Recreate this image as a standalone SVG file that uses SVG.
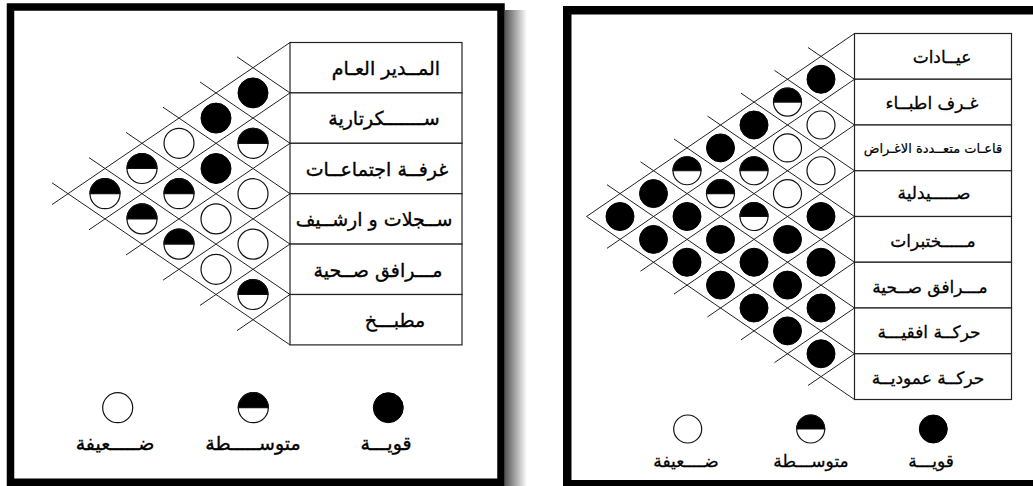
<svg xmlns="http://www.w3.org/2000/svg" xmlns:xlink="http://www.w3.org/1999/xlink" width="1033" height="486" viewBox="0 0 1033 486">
<style>
.frame{fill:none;stroke:#000}
.tbl{fill:#fff;stroke:#222;stroke-width:1.2}
.grid line{stroke:#222;stroke-width:1}
.lbl{font-family:"DejaVu Sans","Noto Sans",sans-serif;font-size:19px;fill:#000;stroke:#000;stroke-width:0.35;text-anchor:middle;direction:rtl}
.lblR{font-family:"DejaVu Sans","Noto Sans",sans-serif;font-size:17px;fill:#000;stroke:#000;stroke-width:0.3;text-anchor:middle;direction:rtl}
.full{fill:#000;stroke:#000;stroke-width:1}
.weak{fill:#fff;stroke:#111;stroke-width:1.2}
.halfb{fill:#000;stroke:#111;stroke-width:1.2}
</style>
<defs>
<linearGradient id="shadow" x1="0" y1="0" x2="1" y2="0">
<stop offset="0" stop-color="#555"/>
<stop offset="1" stop-color="#fff"/>
</linearGradient>
<g id="F15"><circle r="15" class="full"/></g>
<g id="W15"><circle r="15" class="weak"/></g>
<g id="H15"><circle r="15" class="weak"/><path d="M-15,0 A15,15 0 0 1 15,0 Z" class="halfb"/></g>
<g id="F14"><circle r="14" class="full"/></g>
<g id="W14"><circle r="14" class="weak"/></g>
<g id="H14"><circle r="14" class="weak"/><path d="M-14,0 A14,14 0 0 1 14,0 Z" class="halfb"/></g>
</defs>
<rect width="1033" height="486" fill="#fff"/>

<!-- LEFT PANEL -->
<rect x="505" y="10" width="22" height="476" fill="url(#shadow)"/>
<rect id="left-frame" class="frame" x="10.5" y="7" width="490.5" height="475.25" stroke-width="7.5"/>

<g id="left-connectors" class="grid">
<line x1="290" y1="42.5" x2="52" y2="204.6"/>
<line x1="290" y1="92.9" x2="89" y2="229.8"/>
<line x1="290" y1="143.3" x2="126" y2="255"/>
<line x1="290" y1="193.7" x2="163" y2="280.2"/>
<line x1="290" y1="244.1" x2="200" y2="305.4"/>
<line x1="290" y1="294.5" x2="237" y2="330.6"/>
<line x1="290" y1="92.9" x2="237" y2="56.8"/>
<line x1="290" y1="143.3" x2="200" y2="82"/>
<line x1="290" y1="193.7" x2="163" y2="107.2"/>
<line x1="290" y1="244.1" x2="126" y2="132.4"/>
<line x1="290" y1="294.5" x2="89" y2="157.6"/>
<line x1="290" y1="344.9" x2="52" y2="182.8"/>
</g>

<g id="left-table">
<g id="left-row-1"><rect class="tbl" x="290" y="42.5" width="172" height="50.4"/><text class="lbl" x="386" y="75">المــدير العـام</text></g>
<g id="left-row-2"><rect class="tbl" x="290" y="92.9" width="172" height="50.4"/><text class="lbl" x="384" y="125">ســـــــكرتارية</text></g>
<g id="left-row-3"><rect class="tbl" x="290" y="143.3" width="172" height="50.4"/><text class="lbl" x="377" y="176">غرفــة اجتماعــات</text></g>
<g id="left-row-4"><rect class="tbl" x="290" y="193.7" width="172" height="50.4"/><text class="lbl" x="374" y="226">ســجلات و ارشــيف</text></g>
<g id="left-row-5"><rect class="tbl" x="290" y="244.1" width="172" height="50.4"/><text class="lbl" x="378" y="277">مـــرافق صــحية</text></g>
<g id="left-row-6"><rect class="tbl" x="290" y="294.5" width="172" height="50.4"/><text class="lbl" x="395" y="327">مطبـــخ</text></g>
</g>

<g id="left-matrix">
<use href="#F15" x="253" y="92.9"/>
<use href="#H15" x="253" y="143.3"/>
<use href="#W15" x="253" y="193.7"/>
<use href="#W15" x="253" y="244.1"/>
<use href="#H15" x="253" y="294.5"/>
<use href="#F15" x="216" y="118.1"/>
<use href="#F15" x="216" y="168.5"/>
<use href="#W15" x="216" y="218.9"/>
<use href="#W15" x="216" y="269.3"/>
<use href="#W15" x="179" y="143.3"/>
<use href="#H15" x="179" y="193.7"/>
<use href="#H15" x="179" y="244.1"/>
<use href="#H15" x="142" y="168.5"/>
<use href="#H15" x="142" y="218.9"/>
<use href="#H15" x="105" y="193.7"/>
</g>

<g id="left-legend">
<g id="left-legend-weak"><use href="#W15" x="117.7" y="407.7"/><text class="lbl" x="115" y="450">ضـــــعيفة</text></g>
<g id="left-legend-medium"><use href="#H15" x="253.3" y="407.7"/><text class="lbl" x="253" y="450">متوســـــطة</text></g>
<g id="left-legend-strong"><use href="#F15" x="388.3" y="407.7"/><text class="lbl" x="386" y="450">قويـــة</text></g>
</g>

<!-- RIGHT PANEL -->
<rect id="right-frame" class="frame" x="567.25" y="10.25" width="480" height="474" stroke-width="8.5"/>

<g id="right-connectors" class="grid">
<line x1="854.5" y1="33.5" x2="586.5" y2="216.5"/>
<line x1="854.5" y1="79.25" x2="607" y2="248.3"/>
<line x1="854.5" y1="125" x2="640.5" y2="271.2"/>
<line x1="854.5" y1="170.75" x2="674" y2="294"/>
<line x1="854.5" y1="216.5" x2="707.5" y2="316.9"/>
<line x1="854.5" y1="262.25" x2="741" y2="339.8"/>
<line x1="854.5" y1="308" x2="774.5" y2="362.6"/>
<line x1="854.5" y1="353.75" x2="808" y2="385.5"/>
<line x1="854.5" y1="79.25" x2="808" y2="47.5"/>
<line x1="854.5" y1="125" x2="774.5" y2="70.4"/>
<line x1="854.5" y1="170.75" x2="741" y2="93.2"/>
<line x1="854.5" y1="216.5" x2="707.5" y2="116.1"/>
<line x1="854.5" y1="262.25" x2="674" y2="139"/>
<line x1="854.5" y1="308" x2="640.5" y2="161.8"/>
<line x1="854.5" y1="353.75" x2="607" y2="184.7"/>
<line x1="854.5" y1="399.5" x2="586.5" y2="216.5"/>
</g>

<g id="right-table">
<g id="right-row-1"><rect class="tbl" x="854.5" y="33.5" width="157" height="45.75"/><text class="lblR" x="942" y="63">عيــادات</text></g>
<g id="right-row-2"><rect class="tbl" x="854.5" y="79.25" width="157" height="45.75"/><text class="lblR" x="932" y="109">غـرف اطبــاء</text></g>
<g id="right-row-3"><rect class="tbl" x="854.5" y="125" width="157" height="45.75"/><text class="lblR" x="933" y="153" style="font-size:13px;stroke-width:0.2">قاعـات متعــددة الاغـراض</text></g>
<g id="right-row-4"><rect class="tbl" x="854.5" y="170.75" width="157" height="45.75"/><text class="lblR" x="934" y="199">صـــــيدلية</text></g>
<g id="right-row-5"><rect class="tbl" x="854.5" y="216.5" width="157" height="45.75"/><text class="lblR" x="933" y="247">مـــــختبرات</text></g>
<g id="right-row-6"><rect class="tbl" x="854.5" y="262.25" width="157" height="45.75"/><text class="lblR" x="930" y="293">مـــرافق صــحية</text></g>
<g id="right-row-7"><rect class="tbl" x="854.5" y="308" width="157" height="45.75"/><text class="lblR" x="929" y="338">حركــة افقيـــة</text></g>
<g id="right-row-8"><rect class="tbl" x="854.5" y="353.75" width="157" height="45.75"/><text class="lblR" x="928" y="384">حركــة عموديــة</text></g>
</g>

<g id="right-matrix">
<use href="#F14" x="821" y="79.25"/>
<use href="#W14" x="821" y="125"/>
<use href="#W14" x="821" y="170.75"/>
<use href="#F14" x="821" y="216.5"/>
<use href="#F14" x="821" y="262.25"/>
<use href="#F14" x="821" y="308"/>
<use href="#F14" x="821" y="353.75"/>
<use href="#H14" x="787.5" y="102.1"/>
<use href="#W14" x="787.5" y="147.9"/>
<use href="#W14" x="787.5" y="193.6"/>
<use href="#F14" x="787.5" y="239.4"/>
<use href="#F14" x="787.5" y="285.1"/>
<use href="#F14" x="787.5" y="330.9"/>
<use href="#F14" x="754" y="125"/>
<use href="#H14" x="754" y="170.75"/>
<use href="#H14" x="754" y="216.5"/>
<use href="#F14" x="754" y="262.25"/>
<use href="#F14" x="754" y="308"/>
<use href="#F14" x="720.5" y="147.9"/>
<use href="#H14" x="720.5" y="193.6"/>
<use href="#F14" x="720.5" y="239.4"/>
<use href="#F14" x="720.5" y="285.1"/>
<use href="#H14" x="687" y="170.75"/>
<use href="#F14" x="687" y="216.5"/>
<use href="#F14" x="687" y="262.25"/>
<use href="#F14" x="653.5" y="193.6"/>
<use href="#F14" x="653.5" y="239.4"/>
<use href="#F14" x="620" y="216.5"/>
</g>

<g id="right-legend">
<g id="right-legend-weak"><use href="#W14" x="687.7" y="429"/><text class="lblR" x="686" y="467">ضــــعيفة</text></g>
<g id="right-legend-medium"><use href="#H14" x="810.7" y="429"/><text class="lblR" x="811" y="467">متوســـطة</text></g>
<g id="right-legend-strong"><use href="#F14" x="933.3" y="429"/><text class="lblR" x="931" y="467">قويـــة</text></g>
</g>
</svg>
